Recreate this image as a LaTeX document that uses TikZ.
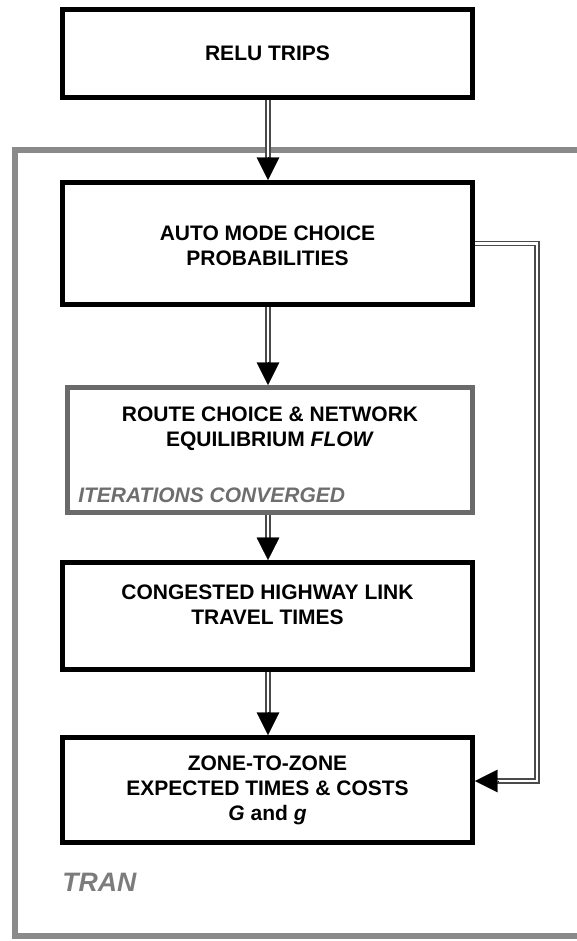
\documentclass[tikz,border=0pt]{standalone}
\usepackage{fontspec}
\setmainfont{Liberation Sans}
\usetikzlibrary{arrows.meta,calc}
\definecolor{framegrey}{HTML}{8A8A8A}
\definecolor{boxgrey}{HTML}{6A6A6A}
\definecolor{linegrey}{HTML}{4A4A4A}
\definecolor{textgrey}{HTML}{6E6E6E}
\tikzset{
  blackbox/.style={draw=black, line width=3.75pt, minimum width=307.5pt, inner sep=0pt},
  greybox/.style={draw=boxgrey, line width=3.75pt, inner sep=0pt},
  txt/.style={font=\fontsize{15.75}{18.75}\selectfont\bfseries, align=center, inner sep=0pt},
  gtxt/.style={font=\fontsize{15.75}{18.75}\selectfont\bfseries\itshape, text=textgrey, inner sep=0pt},
  dline/.style={draw=linegrey, line width=1.1pt, double=white, double distance=1.6pt, line join=miter},
  tip/.style={draw=black, line width=0.3pt, -{Triangle[width=17pt,length=17pt]}},
}
\begin{document}
\begin{tikzpicture}[x=0.75pt,y=-0.75pt]
\useasboundingbox (0,0) rectangle (576,941);
% outer TRAN frame
\draw[framegrey, line width=4.5pt] (580,150) -- (15,150) -- (15,936) -- (580,936);
\node[gtxt, text=framegrey!90!black, font=\fontsize{20}{24}\selectfont\bfseries\itshape, anchor=west] (tran) at (62,882) {TRAN};

% boxes
\node[blackbox, minimum height=66pt] (relu) at (267.5,53.5) {};
\node[blackbox, minimum height=91.5pt] (auto) at (267.5,243.5) {};
\node[greybox, minimum width=303.75pt, minimum height=93.75pt] (route) at (270,450) {};
\node[blackbox, minimum height=80pt] (cong) at (267.5,616) {};
\node[blackbox, minimum height=78.75pt] (zone) at (267.5,790) {};

% texts
\node[txt] (relut) at (relu.center) {RELU TRIPS};
\node[txt] (autot) at (267.5,245.5) {AUTO MODE CHOICE\\PROBABILITIES};
\node[txt] (routet) at (270,428.5) {ROUTE CHOICE \& NETWORK\\EQUILIBRIUM \textit{FLOW}};
\node[gtxt, anchor=west] (iter) at (78,495) {ITERATIONS CONVERGED};
\node[txt] (congt) at (267.5,605) {CONGESTED HIGHWAY LINK\\TRAVEL TIMES};
\node[txt] (zonet) at (267.5,790) {ZONE-TO-ZONE\\EXPECTED TIMES \& COSTS\\\textit{G} and \textit{g}};

% vertical connectors
\foreach \a/\b in {relu/auto, auto/route, route/cong, cong/zone}{
  \coordinate (\b in) at (\b.north -| 268,0);
  \coordinate (\a out) at (\a.south -| 268,0);
  \draw[dline] (\a out) -- ([yshift=15pt]\b in);
  \draw[tip] ([yshift=17pt]\b in) -- (\b in);
}
% right-hand feedback connector
\coordinate (corner) at (537,0);
\coordinate (zin) at ([yshift=6.75pt]zone.east);
\draw[dline] (auto.east) -| (corner |- zin) -- ([xshift=15pt]zin);
\draw[tip] ([xshift=17pt]zin) -- (zin);
\end{tikzpicture}
\end{document}
